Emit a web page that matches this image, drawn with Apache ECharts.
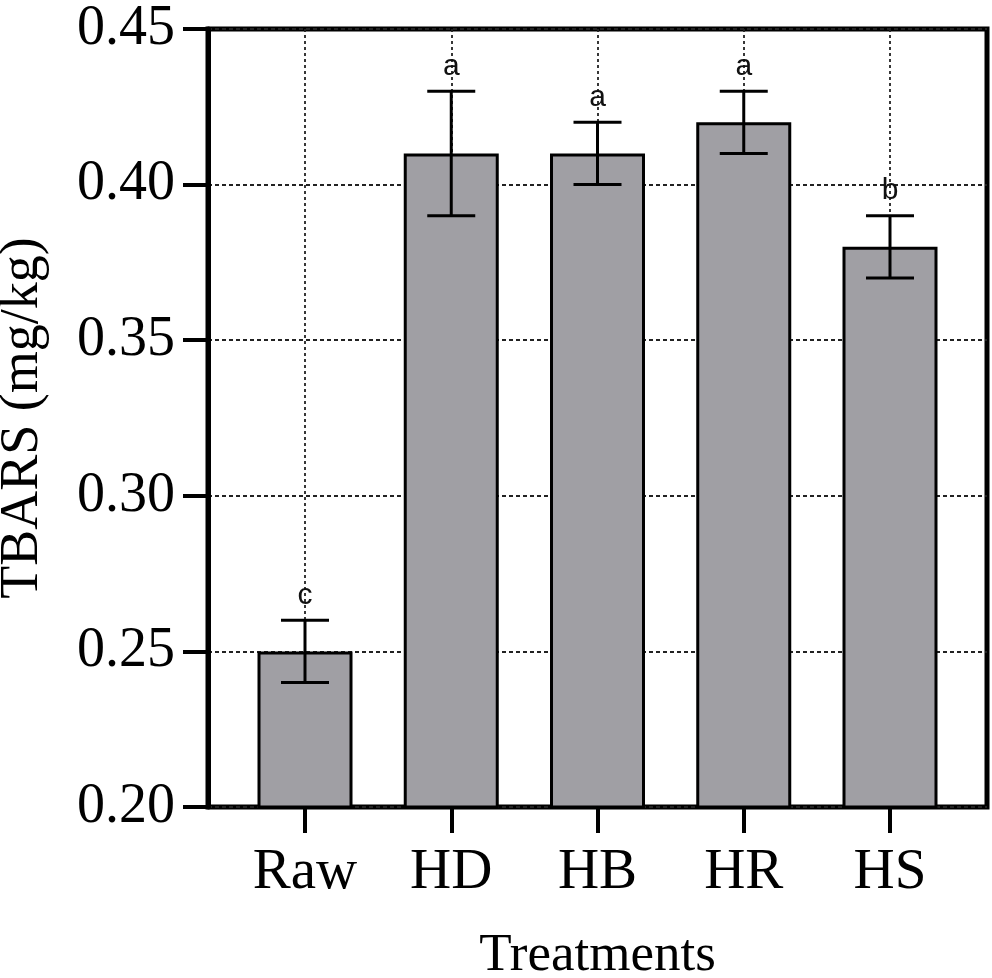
<!DOCTYPE html>
<html>
<head>
<meta charset="utf-8">
<script src="https://cdn.jsdelivr.net/npm/echarts@6/dist/echarts.min.js"></script>
<style>
  html, body { margin: 0; padding: 0; background: #fff; }
  #chart { width: 992px; height: 978px; }
</style>
</head>
<body>
<div id="chart"></div>
<script>
const categories = ["Raw", "HD", "HB", "HR", "HS"];
const means = [0.25, 0.41, 0.41, 0.42, 0.38];
const errLow = [0.24, 0.39, 0.40, 0.41, 0.37];
const errHigh = [0.26, 0.43, 0.42, 0.43, 0.39];
const letters = ["c", "a", "a", "a", "b"];
const yTicks = [0.2, 0.25, 0.3, 0.35, 0.4, 0.45];

const serif = "'Liberation Serif', 'Times New Roman', serif";
const sans = "'Liberation Sans', Arial, sans-serif";

const chart = echarts.init(document.getElementById("chart"));

const option = {
  animation: false,
  grid: [
    // frame + y axis
    {
      left: 208, top: 29, width: 779, bottom: 171,
      show: true, borderColor: "#000", borderWidth: 5,
      containLabel: false, outerBoundsMode: "none",
    },
    // bars, centred at category points
    {
      left: 305, top: 29, width: 585, bottom: 171,
      containLabel: false, outerBoundsMode: "none",
    },
  ],
  xAxis: [
    { gridIndex: 0, type: "value", show: false, min: 0, max: 1 },
    {
      gridIndex: 1,
      type: "category",
      data: categories,
      boundaryGap: false,
      axisLine: { show: false },
      axisTick: { show: true, length: 26, lineStyle: { color: "#000", width: 4 } },
      axisLabel: {
        color: "#000", fontFamily: serif, fontSize: 57, margin: 38,
      },
      splitLine: {
        show: true,
        lineStyle: { color: "#222", width: 1.8, type: [3, 3] },
      },
      name: "Treatments",
      nameLocation: "middle",
      nameGap: 123,
      nameTextStyle: { color: "#000", fontFamily: serif, fontSize: 53 },
    },
  ],
  yAxis: [
    {
      gridIndex: 0,
      type: "value",
      min: yTicks[0],
      max: yTicks[yTicks.length - 1],
      interval: 0.05,
      axisLine: { show: true, lineStyle: { color: "#000", width: 5 } },
      axisTick: { show: true, length: 25, lineStyle: { color: "#000", width: 4 } },
      axisLabel: {
        color: "#000", fontFamily: serif, fontSize: 56, margin: 33,
        formatter: (v) => v.toFixed(2),
      },
      splitLine: {
        show: true,
        lineStyle: { color: "#222", width: 1.8, type: [4, 3] },
      },
      name: "TBARS (mg/kg)",
      nameLocation: "middle",
      nameGap: 158,
      nameTextStyle: { color: "#000", fontFamily: serif, fontSize: 54 },
    },
    {
      gridIndex: 1,
      type: "value",
      show: false,
      min: yTicks[0],
      max: yTicks[yTicks.length - 1],
    },
  ],
  series: [
    {
      type: "bar",
      xAxisIndex: 1,
      yAxisIndex: 1,
      data: means,
      barWidth: 95,
      itemStyle: { color: "#a09fa4", borderColor: "#000", borderWidth: 3 },
      z: 2,
    },
    {
      type: "custom",
      xAxisIndex: 1,
      yAxisIndex: 1,
      data: categories.map((c, i) => [i, errLow[i], errHigh[i], letters[i]]),
      z: 5,
      renderItem: (params, api) => {
        const lo = api.coord([api.value(0), api.value(1)]);
        const hi = api.coord([api.value(0), api.value(2)]);
        const half = 24;
        const style = { stroke: "#000", lineWidth: 3 };
        return {
          type: "group",
          children: [
            { type: "line", shape: { x1: hi[0], y1: hi[1], x2: lo[0], y2: lo[1] }, style },
            { type: "line", shape: { x1: hi[0] - half, y1: hi[1], x2: hi[0] + half, y2: hi[1] }, style },
            { type: "line", shape: { x1: lo[0] - half, y1: lo[1], x2: lo[0] + half, y2: lo[1] }, style },
            {
              type: "text",
              style: {
                text: letters[params.dataIndex],
                x: hi[0], y: hi[1] - 10,
                align: "center", verticalAlign: "bottom",
                fontFamily: sans, fontSize: 30, fill: "#111",
              },
            },
          ],
        };
      },
    },
  ],
};

chart.setOption(option);
</script>
</body>
</html>
